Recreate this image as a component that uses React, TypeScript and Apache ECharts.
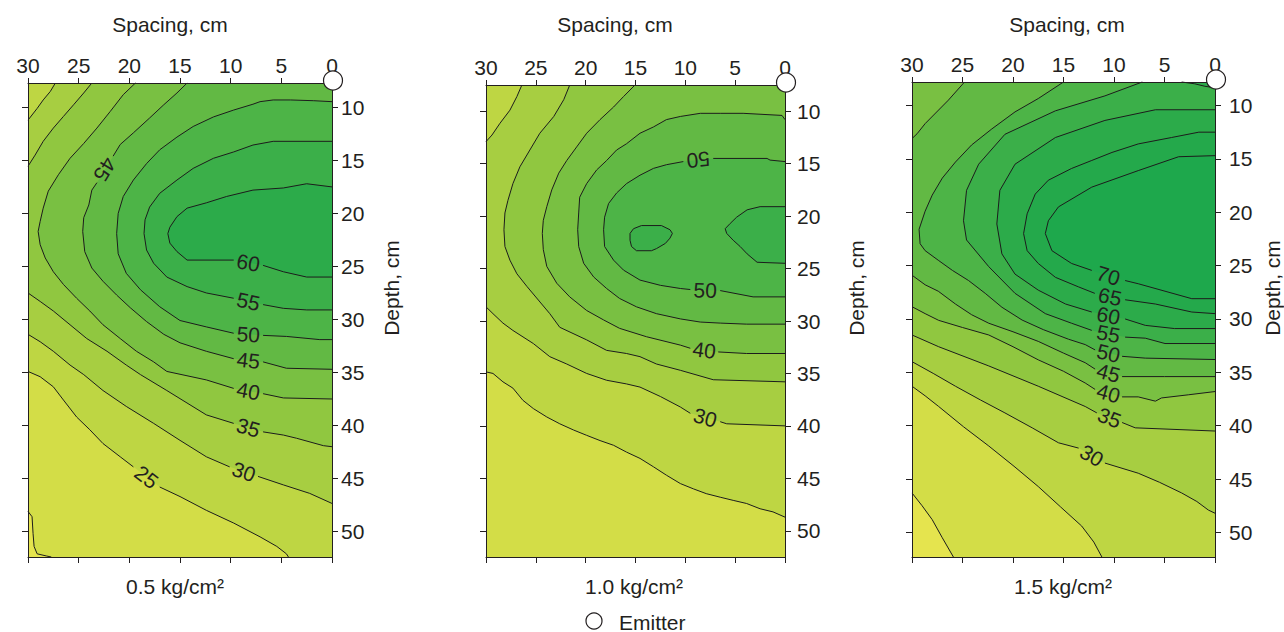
import React, { useEffect, useRef } from "react";
import * as echarts from "echarts";

// ---------- data (spacing cm, depth cm) ----------
const SPACING_TICK_STEP = 5;
const DEPTH_TICKS = [10, 15, 20, 25, 30, 35, 40, 45, 50];
const PANEL_NAMES = ["0.5 kg/cm²", "1.0 kg/cm²", "1.5 kg/cm²"];
const DEPTH_RANGES = [[7.7, 52.4], [7.5, 52.5], [7.8, 52.3]];
const BASE_LEVELS = [15, 20, 15];

// Panel 1 (0.5 kg/cm²) contour lines; null marks a label gap
const P1_C20 = [[30,48.1],[29.6,48.6],[29.5,50.2],[29.4,51.4],[29.1,52.1],[28.2,52.3],[27.7,52.4]];
const P1_C25 = [[30,34.9],[28.8,35.4],[27.5,36.35],[26.5,37.6],[25.2,39.2],[23.9,40.4],[22.6,41.7],[20.9,42.95],[19.6,43.9],null,[17.0,45.8],[15.0,46.7],[12.4,48.0],[9.7,49.2],[7.1,50.5],[5.45,51.4],[4.5,52.1],[4.3,52.4]];
const P1_C30A = [[27.3,7.7],[27.8,8.5],[28.5,9.3],[29.1,10.1],[30,11.2]];
const P1_C30B = [[30,31.4],[28.8,32.1],[27.5,33.0],[25.85,34.3],[24.5,35.2],[22.6,36.7],[20.3,38.2],[17.6,39.8],[15.0,41.4],[12.4,42.95],[10.1,43.9],null,[7.3,44.8],[4.8,45.6],[2.2,46.4],[0,47.35]];
const P1_C35A = [[23.7,7.7],[24.5,8.64],[25.5,9.75],[26.5,10.85],[27.5,11.95],[28.5,13.2],[29.3,14.5],[30,15.55]];
const P1_C35B = [[30,27.5],[28.8,28.3],[27.5,29.2],[25.85,30.5],[24.2,31.8],[22.2,33.0],[20.3,34.3],[18.9,35.2],[16.3,36.7],[12.4,39.0],[9.7,39.8],null,[6.8,40.6],[4.8,40.9],[3.5,41.2],[0.85,41.9],[0,42.0]];
const P1_C40 = [[19.4,7.7],[20.6,8.8],[21.9,10.4],[23.2,11.95],[24.5,13.4],[25.85,14.8],[27.0,16.35],[28.0,17.9],[28.5,19.5],[28.8,20.75],[29.0,21.7],[28.8,22.95],[28.3,24.2],[27.5,25.5],[26.5,26.7],[25.2,28.0],[23.9,29.2],[22.6,30.5],[20.9,31.8],[19.3,33.0],[17.6,34.0],[16.3,34.9],[12.4,35.7],[9.7,36.5],null,[6.8,37.0],[4.8,37.4],[0,37.5]];
const P1_C45 = [[14.3,7.7],[15.3,8.64],[16.6,9.75],[18.0,11.0],[19.6,12.4],[20.9,13.5],[21.6,14.6],null,[23.2,17.1],[23.7,17.8],[24.0,19.2],[24.5,20.4],[24.6,21.7],[24.4,23.6],[23.7,25.15],[22.6,26.4],[21.25,27.7],[19.9,28.9],[18.3,30.2],[16.6,31.4],[15.0,32.2],[12.4,33.0],[9.7,33.7],null,[6.8,34.0],[4.5,34.6],[0,34.7]];
const P1_C50 = [[0,9.46],[1.8,9.37],[4.1,9.3],[5.8,9.3],[7.1,9.46],[7.8,9.7],[9.7,10.25],[11.7,10.9],[13.7,11.8],[15.3,12.8],[17.0,14.0],[18.3,15.3],[19.6,16.85],[20.6,18.4],[21.1,20.0],[21.25,21.9],[21.1,23.8],[20.3,25.65],[18.9,27.2],[17.0,28.8],[15.0,30.1],[12.4,30.7],[9.7,31.3],null,[6.8,31.5],[4.5,31.6],[1.2,31.9],[0,31.9]];
const P1_C55 = [[0,13.2],[5.8,13.2],[7.8,13.55],[9.7,14.2],[11.7,14.8],[13.7,15.75],[15.3,16.85],[17.0,18.1],[18.0,19.4],[18.45,20.6],[18.55,21.9],[18.3,23.45],[17.6,24.7],[16.3,26.0],[14.3,26.9],[12.4,27.5],[9.7,28.0],null,[6.8,28.6],[4.8,28.95],[2.5,29.1],[0,29.1]];
const P1_C60 = [[0,17.5],[2.5,17.2],[4.8,17.6],[7.8,17.8],[10.4,18.4],[12.4,19.0],[14.3,19.5],[15.3,20.3],[16.0,21.3],[16.2,21.9],[16.0,22.8],[15.3,23.6],[14.3,24.4],[9.7,24.4],null,[6.8,24.9],[4.8,25.5],[2.5,26.0],[0,26.0]];

// Panel 2 (1.0 kg/cm²)
const P2_C25 = [[30,34.85],[29.3,35.0],[28.3,35.8],[27.3,36.4],[26.3,37.56],[25.25,38.35],[23.9,39.15],[22.6,39.8],[21.2,40.4],[19.9,40.9],[18.56,41.4],[17.2,41.85],[15.9,42.5],[14.55,43.1],[13.2,43.9],[11.9,44.7],[10.5,45.5],[9.2,46.0],[7.9,46.46],[6.5,46.8],[5.2,47.1],[3.85,47.4],[2.5,47.9],[1.2,48.2],[0,48.7]];
const P2_C30A = [[26.4,7.5],[26.9,8.6],[27.6,9.9],[28.6,11.15],[29.4,12.27],[30,12.9]];
const P2_C30B = [[30,28.65],[29.3,29.3],[28.3,30.2],[27.3,30.9],[25.25,32.15],[23.6,33.4],[21.9,34.1],[19.9,35.0],[17.9,35.65],[15.9,36.0],[14.55,36.3],[12.5,37.2],[10.5,38.2],[9.5,38.8],null,[6.5,39.6],[5.85,39.8],[0,40.0]];
const P2_C35 = [[21.6,7.5],[22.2,8.9],[23.2,10.5],[24.6,12.1],[25.6,13.7],[26.6,15.3],[27.3,16.9],[27.8,18.5],[28.1,19.7],[28.2,21.3],[28.1,22.9],[27.6,24.2],[26.9,25.5],[25.9,26.7],[24.75,28.0],[23.6,29.3],[22.6,30.6],[19.9,31.8],[17.9,32.8],[15.9,33.1],[14.55,33.4],[12.9,34.1],[10.5,34.7],[7.2,35.6],[0,35.8]];
const P2_C40 = [[15.05,7.5],[16.2,8.6],[17.2,9.6],[18.56,10.8],[19.9,12.1],[20.9,13.4],[21.9,14.7],[22.7,15.9],[23.4,17.5],[23.9,19.1],[24.25,20.4],[24.35,21.65],[24.25,23.2],[23.9,24.8],[22.9,26.4],[21.6,27.7],[19.9,29.0],[18.2,29.9],[16.6,30.7],[13.9,31.5],[10.5,32.3],[9.5,32.6],null,[6.7,32.95],[3.85,33.1],[0,33.1]];
const P2_C45 = [[0,10.8],[0.3,10.4],[4.2,10.2],[6.5,10.2],[8.5,10.2],[10.5,10.5],[11.9,10.8],[13.2,11.5],[14.55,12.1],[15.9,13.1],[16.9,13.7],[17.9,14.7],[18.9,15.6],[19.9,16.9],[20.6,18.2],[20.7,19.7],[20.8,21.3],[20.7,22.9],[20.2,24.5],[19.2,25.8],[17.9,26.9],[16.6,27.85],[14.9,28.65],[12.9,29.3],[10.5,29.8],[8.5,30.1],[6.5,30.2],[3.85,30.3],[0,30.3]];
const P2_C50 = [[0,14.8],[1.5,14.66],[1.8,14.5],[7.2,14.5],null,[10.2,14.8],[11.9,15.1],[13.2,15.45],[14.55,16.1],[15.9,16.9],[16.9,17.8],[17.7,18.8],[18.1,20.1],[18.2,21.3],[18.1,22.9],[17.2,24.2],[16.2,25.15],[14.55,26.1],[12.5,26.6],[10.5,26.9],[9.5,27.0],null,[6.5,27.1],[3.2,27.7],[0,27.7]];
const P2_C55A = [[15.55,21.65],[15.2,21.2],[14.4,20.9],[12.4,20.9],[11.54,21.3],[11.3,21.65],[11.54,22.1],[12.0,22.6],[12.9,23.1],[13.4,23.3],[14.9,23.3],[15.4,22.9],[15.55,22.3],[15.55,21.65]];
const P2_C55B = [[0,19.1],[2.5,19.1],[3.8,19.4],[4.85,20.1],[5.5,20.7],[6.0,21.2],[5.85,21.65],[5.2,22.3],[4.5,22.9],[3.8,23.6],[2.8,24.4],[0,24.5]];

// Panel 3 (1.5 kg/cm²)
const P3_C20 = [[30,46.3],[29.0,47.5],[28.0,48.8],[27.0,50.5],[25.9,52.3]];
const P3_C25 = [[30,36.3],[28.7,37.2],[27.36,38.2],[24.9,40.1],[22.4,41.9],[19.9,43.8],[17.5,45.7],[15.3,47.6],[13.2,49.4],[12.0,50.9],[11.2,52.3]];
const P3_C30 = [[30,34.0],[27.9,35.1],[25.7,36.3],[23.2,37.6],[20.8,38.8],[18.1,40.2],[15.5,41.6],[13.5,42.1],null,[10.9,43.5],[7.6,44.45],[5.5,45.3],[3.3,46.3],[1.8,47.1],[0.66,47.9],[0,48.2]];
const P3_C35 = [[30,31.5],[27.36,32.6],[22.4,34.4],[17.5,36.3],[12.85,38.2],[11.7,38.8],null,[9.2,39.7],[7.9,40.2],[0,40.5]];
const P3_C40 = [[30,28.85],[28.7,29.5],[27.36,30.13],[25.0,30.8],[22.4,31.5],[20.0,32.6],[17.5,33.83],[15.0,34.9],[12.85,36.0],[11.87,36.6],null,[9.2,37.3],[7.6,37.3],[5.9,37.7],[5.3,37.4],[2.6,37.1],[0,36.8]];
const P3_C45A = [[24.8,7.8],[26.4,9.5],[28.7,11.7],[29.5,12.65],[30,13.1]];
const P3_C45B = [[30,25.9],[28.7,26.8],[27.4,27.4],[25.7,28.6],[24.1,29.6],[22.4,30.4],[20.0,31.2],[17.5,32.1],[15.0,33.2],[12.85,34.1],[11.87,34.7],null,[9.2,35.4],[5.0,35.4],[0,35.4]];
const P3_C50 = [[15.0,7.8],[17.5,9.35],[19.8,10.6],[22.1,12.2],[24.1,13.7],[25.7,15.3],[27.0,16.8],[28.0,18.4],[28.7,19.9],[29.3,21.6],[29.2,22.95],[28.7,23.6],[27.4,24.5],[26.0,25.45],[24.4,26.4],[22.75,27.6],[21.1,28.9],[19.1,30.1],[17.0,31.0],[14.5,31.9],[12.85,32.4],[11.87,32.9],null,[9.2,33.5],[6.9,33.67],[0,33.8]];
const P3_C55 = [[7.2,7.8],[10.9,9.1],[15.8,10.5],[20.8,12.7],[23.4,15.5],[24.6,17.95],[24.9,20.8],[24.6,22.6],[22.4,25.1],[19.8,27.6],[16.8,29.5],[14.2,30.4],[12.2,31.07],null,[8.9,31.7],[6.9,31.8],[4.95,32.3],[0,32.3]];
const P3_C60 = [[0,10.4],[5.9,10.4],[10.9,11.4],[15.8,13.0],[19.8,15.5],[21.3,17.95],[21.6,21.1],[21.1,23.9],[19.8,25.8],[17.5,27.3],[14.8,28.6],[12.2,29.35],null,[8.9,30.0],[6.9,30.6],[4.0,30.9],[0,30.9]];
const P3_C60B = [[0,8.35],[1.0,8.2],[2.0,7.97],[3.3,7.8]];
const P3_C65 = [[0,12.5],[1.6,12.5],[4.3,13.0],[7.6,13.6],[10.2,14.4],[12.2,15.15],[14.2,15.9],[16.5,17.0],[17.8,18.3],[18.6,20.15],[18.95,22.0],[18.6,23.6],[17.5,24.8],[15.8,26.1],[13.5,27.0],[11.9,27.6],null,[8.9,28.2],[5.9,28.6],[2.3,29.35],[0,29.5]];
const P3_C70 = [[0,14.7],[3.6,14.8],[7.6,16.1],[12.2,17.65],[15.5,19.5],[16.5,20.8],[16.8,22.0],[16.15,23.6],[14.2,24.8],[12.2,25.45],null,[8.9,26.4],[7.6,26.7],[2.3,28.1],[0,28.1]];

// filled regions (value >= level): contour pieces + plot corners that close them
const PANEL_FILLS = [
  [
    { level: 20, parts: [P1_C20], corners: ["BR", "TR", "TL"] },
    { level: 25, parts: [P1_C25], corners: ["BR", "TR", "TL"] },
    { level: 30, parts: [P1_C30A, P1_C30B], corners: ["TR"] },
    { level: 35, parts: [P1_C35A, P1_C35B], corners: ["TR"] },
    { level: 40, parts: [P1_C40], corners: ["TR"] },
    { level: 45, parts: [P1_C45], corners: ["TR"] },
    { level: 50, parts: [P1_C50], corners: [] },
    { level: 55, parts: [P1_C55], corners: [] },
    { level: 60, parts: [P1_C60], corners: [] },
  ],
  [
    { level: 25, parts: [P2_C25], corners: ["TR", "TL"] },
    { level: 30, parts: [P2_C30A, P2_C30B], corners: ["TR"] },
    { level: 35, parts: [P2_C35], corners: ["TR"] },
    { level: 40, parts: [P2_C40], corners: ["TR"] },
    { level: 45, parts: [P2_C45], corners: [] },
    { level: 50, parts: [P2_C50], corners: [] },
    { level: 55, parts: [P2_C55A], corners: [] },
    { level: 55, parts: [P2_C55B], corners: [] },
  ],
  [
    { level: 20, parts: [P3_C20], corners: ["BR", "TR", "TL"] },
    { level: 25, parts: [P3_C25], corners: ["BR", "TR", "TL"] },
    { level: 30, parts: [P3_C30], corners: ["TR", "TL"] },
    { level: 35, parts: [P3_C35], corners: ["TR", "TL"] },
    { level: 40, parts: [P3_C40], corners: ["TR", "TL"] },
    { level: 45, parts: [P3_C45A, P3_C45B], corners: ["TR"] },
    { level: 50, parts: [P3_C50], corners: ["TR"] },
    { level: 55, parts: [P3_C55], corners: ["TR"] },
    { level: 60, parts: [P3_C60], corners: [] },
    { level: 60, parts: [P3_C60B], corners: ["TR"] },
    { level: 65, parts: [P3_C65], corners: [] },
    { level: 70, parts: [P3_C70], corners: [] },
  ],
];

// ---------- styles / layout ----------
const FONT = '"Liberation Sans", Arial, Helvetica, sans-serif';
const FS = 21;
const TEXT = "#231f20";
const AX = "#231f20";
const LINE = "#1c1c1c";
const BAND_COLOR: Record<number, string> = {
  15: "#e5e44e", 20: "#d3dd47", 25: "#bed643", 30: "#a7ce41", 35: "#90c740",
  40: "#79c042", 45: "#62b944", 50: "#4db447", 55: "#3baf49", 60: "#2cab4a",
  65: "#24a94b", 70: "#1ea84c",
};
const LAYOUT = [
  { left: 28, top: 83, width: 304, height: 474, margin: 9, titleX: 170, nameX: 175, depthX: 391 },
  { left: 486, top: 85, width: 299, height: 472, margin: 12, titleX: 615, nameX: 634, depthX: 856 },
  { left: 912, top: 82, width: 303, height: 475, margin: 14, titleX: 1067, nameX: 1063, depthX: 1272 },
];

function makeContourRender(pi: number) {
  return (params: any, api: any) => {
    const [y0, y1] = DEPTH_RANGES[pi];
    const corner: Record<string, number[]> = { TR: [0, y0], TL: [30, y0], BR: [0, y1], BL: [30, y1] };
    const px = (p: number[]) => api.coord(p);
    const children: any[] = [];
    children.push({
      type: "polygon", silent: true,
      shape: { points: [px([30, y0]), px([0, y0]), px([0, y1]), px([30, y1])] },
      style: { fill: BAND_COLOR[BASE_LEVELS[pi]] },
    });
    for (const f of PANEL_FILLS[pi]) {
      const pts: number[][] = [];
      f.parts.forEach((line: any[]) => line.forEach((p) => { if (p) pts.push(px(p)); }));
      f.corners.forEach((c: string) => pts.push(px(corner[c])));
      children.push({ type: "polygon", silent: true, shape: { points: pts }, style: { fill: BAND_COLOR[f.level] } });
    }
    for (const f of PANEL_FILLS[pi]) {
      for (const line of f.parts as any[][]) {
        let seg: number[][] = [];
        const flush = () => {
          if (seg.length > 1) {
            children.push({ type: "polyline", silent: true, shape: { points: seg }, style: { stroke: LINE, lineWidth: 1, fill: null } });
          }
          seg = [];
        };
        line.forEach((p, i) => {
          if (p) { seg.push(px(p)); return; }
          flush();
          const a = px(line[i - 1]);
          const b = px(line[i + 1]);
          const ang = Math.atan2(b[1] - a[1], b[0] - a[0]);
          children.push({
            type: "text", silent: true,
            x: (a[0] + b[0]) / 2, y: (a[1] + b[1]) / 2, rotation: -ang,
            style: {
              text: String(f.level), fontSize: FS, fontFamily: FONT, fill: TEXT,
              align: "center", verticalAlign: "middle", textAlign: "center", textVerticalAlign: "middle",
            },
          });
        });
        flush();
      }
    }
    return { type: "group", children };
  };
}

function makeEmitterRender(pi: number) {
  return (params: any, api: any) => {
    const c = api.coord([0, DEPTH_RANGES[pi][0]]);
    return {
      type: "circle", silent: true,
      shape: { cx: c[0] + 1, cy: c[1] - 2.5, r: 9.5 },
      style: { fill: "#ffffff", stroke: "#231f20", lineWidth: 1.2 },
    };
  };
}

export default function App() {
  const ref = useRef<HTMLDivElement>(null);
  useEffect(() => {
    if (!ref.current) return;
    const chart = echarts.init(ref.current, null, { renderer: "svg" });
    const grid: any[] = [];
    const xAxis: any[] = [];
    const yAxis: any[] = [];
    const series: any[] = [];
    const graphic: any[] = [];
    LAYOUT.forEach((l, i) => {
      grid.push({ left: l.left, top: l.top, width: l.width, height: l.height });
      const xc = {
        gridIndex: i, type: "value", min: 0, max: 30, interval: SPACING_TICK_STEP, inverse: true, z: 5,
        splitLine: { show: false },
        axisLine: { show: true, onZero: false, lineStyle: { color: AX, width: 1 } },
      };
      xAxis.push({
        ...xc, position: "top",
        axisTick: { show: true, length: 5, lineStyle: { color: AX } },
        axisLabel: { show: true, fontSize: FS, color: TEXT, fontFamily: FONT, margin: 7 },
      });
      xAxis.push({
        ...xc, position: "bottom",
        axisTick: { show: true, length: 6, lineStyle: { color: AX } },
        axisLabel: { show: false },
      });
      const [y0, y1] = DEPTH_RANGES[i];
      const yc = {
        gridIndex: i, type: "value", min: y0, max: y1, inverse: true, z: 5,
        splitLine: { show: false },
        axisLine: { show: true, onZero: false, lineStyle: { color: AX, width: 1 } },
      };
      yAxis.push({
        ...yc, position: "right",
        axisTick: { show: true, length: 6, customValues: DEPTH_TICKS, lineStyle: { color: AX } },
        axisLabel: { show: true, customValues: DEPTH_TICKS, fontSize: FS, color: TEXT, fontFamily: FONT, margin: l.margin },
      });
      yAxis.push({
        ...yc, position: "left",
        axisTick: { show: true, length: 6, customValues: DEPTH_TICKS, lineStyle: { color: AX } },
        axisLabel: { show: false },
      });
      series.push({
        type: "custom", xAxisIndex: 2 * i, yAxisIndex: 2 * i, z: 2,
        data: [[15, 30]], renderItem: makeContourRender(i), silent: true,
      });
      series.push({
        type: "custom", xAxisIndex: 2 * i, yAxisIndex: 2 * i, z: 10,
        data: [[0, DEPTH_RANGES[i][0]]], renderItem: makeEmitterRender(i), silent: true, clip: false,
      });
      const ts = { fontSize: FS, fontFamily: FONT, fill: TEXT, align: "center", verticalAlign: "middle", textAlign: "center", textVerticalAlign: "middle" };
      graphic.push({ type: "text", x: l.titleX, y: 24, silent: true, style: { ...ts, text: "Spacing, cm" } });
      graphic.push({ type: "text", x: l.nameX, y: 586, silent: true, style: { ...ts, text: PANEL_NAMES[i] } });
      graphic.push({ type: "text", x: l.depthX, y: 288, rotation: Math.PI / 2, silent: true, style: { ...ts, text: "Depth, cm" } });
    });
    graphic.push({ type: "circle", silent: true, shape: { cx: 594, cy: 621, r: 8 }, style: { fill: "#fff", stroke: "#231f20", lineWidth: 1.2 } });
    graphic.push({
      type: "text", x: 619, y: 622, silent: true,
      style: { text: "Emitter", fontSize: FS, fontFamily: FONT, fill: TEXT, align: "left", verticalAlign: "middle", textAlign: "left", textVerticalAlign: "middle" },
    });
    chart.setOption({
      animation: false,
      backgroundColor: "#ffffff",
      grid, xAxis, yAxis, series, graphic,
    });
    return () => chart.dispose();
  }, []);
  return (
    <div
      ref={ref}
      style={{ position: "fixed", left: 0, top: 0, width: 1284, height: 632, background: "#fff" }}
    />
  );
}
